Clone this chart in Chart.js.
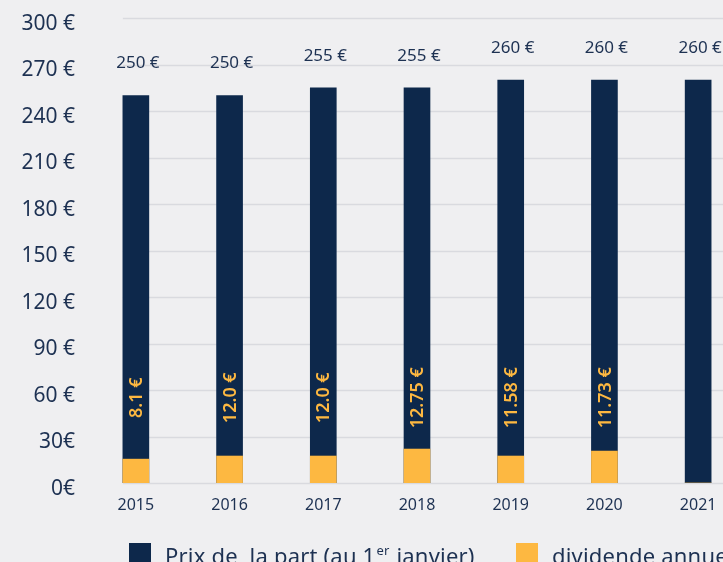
<!DOCTYPE html>
<html>
<head>
<meta charset="utf-8">
<script src="https://cdn.jsdelivr.net/npm/chart.js@4/dist/chart.umd.min.js"></script>
<style>
  html, body { margin: 0; padding: 0; background: #efeff1; overflow: hidden; }
</style>
</head>
<body>
<canvas id="chart" width="745" height="600"></canvas>
<script>
const years = ["2015", "2016", "2017", "2018", "2019", "2020", "2021"];
const prices = [250, 250, 255, 255, 260, 260, 260];
const priceLabels = ["250 €", "250 €", "255 €", "255 €", "260 €", "260 €", "260 €"];
// orange bar heights as drawn in the picture (axis units)
const dividendBars = [15.4, 17.4, 17.4, 21.9, 17.4, 20.6, 0];
const dividendLabels = ["8.1 €", "12.0 €", "12.0 €", "12.75 €", "11.58 €", "11.73 €", ""];
const yTickLabels = ["0€", "30€", "60 €", "90 €", "120 €", "150 €", "180 €", "210 €", "240 €", "270 €", "300 €"];

const NAVY = "#0d284b";
const ORANGE = "#fdb841";
const TEXT = "#1d3152";
const FONT = "'Noto Sans', sans-serif";

// horizontal grid lines start at the first bar, not at the chart edge
const gridLines = {
  id: "gridLines",
  beforeDatasetsDraw(chart) {
    const { ctx, scales: { y } } = chart;
    const first = chart.getDatasetMeta(0).data[0];
    const x0 = first.x - first.width / 2;
    ctx.save();
    ctx.strokeStyle = "#d9dadf";
    ctx.lineWidth = 1.5;
    y.ticks.forEach((t) => {
      const py = Math.round(y.getPixelForValue(t.value)) + 0.5;
      ctx.beginPath();
      ctx.moveTo(x0, py);
      ctx.lineTo(chart.width, py);
      ctx.stroke();
    });
    ctx.restore();
  },
};

const barLabels = {
  id: "barLabels",
  afterDatasetsDraw(chart) {
    const { ctx, scales: { y } } = chart;
    ctx.save();
    // prices above the navy bars
    ctx.fillStyle = TEXT;
    ctx.font = "17px " + FONT;
    ctx.textAlign = "center";
    ctx.textBaseline = "middle";
    chart.getDatasetMeta(0).data.forEach((bar, i) => {
      ctx.fillText(priceLabels[i], bar.x + 2, bar.y - 32);
    });
    // dividends, rotated, inside the navy bars
    ctx.fillStyle = ORANGE;
    ctx.font = "600 18px " + FONT;
    const cy = y.getPixelForValue(55);
    chart.getDatasetMeta(1).data.forEach((bar, i) => {
      if (!dividendLabels[i]) return;
      ctx.save();
      ctx.translate(bar.x + 1, cy);
      ctx.rotate(-Math.PI / 2);
      ctx.fillText(dividendLabels[i], 0, 0);
      ctx.restore();
    });
    ctx.restore();
  },
};

// legend drawn by hand so "1er" can get its superscript
const legendRow = {
  id: "legendRow",
  afterDraw(chart) {
    const { ctx } = chart;
    const ds = chart.data.datasets;
    const starts = [129, 516];
    const top = 543;
    ctx.save();
    ctx.textBaseline = "alphabetic";
    ctx.textAlign = "left";
    ctx.letterSpacing = "0.2px";
    ds.forEach((d, i) => {
      const x = starts[i];
      ctx.fillStyle = d.backgroundColor;
      ctx.fillRect(x, top, 22, 22);
      ctx.fillStyle = TEXT;
      ctx.font = "22px " + FONT;
      let tx = x + 36;
      const base = top + 21;
      const parts = d.label.split("1er");
      ctx.fillText(parts[0] + (parts.length > 1 ? "1" : ""), tx, base);
      if (parts.length > 1) {
        tx += ctx.measureText(parts[0] + "1").width;
        ctx.font = "13px " + FONT;
        ctx.fillText("er", tx + 1, base - 9);
        tx += ctx.measureText("er").width + 2;
        ctx.font = "22px " + FONT;
        ctx.fillText(parts[1], tx, base);
      }
    });
    ctx.restore();
  },
};

new Chart(document.getElementById("chart").getContext("2d"), {
  type: "bar",
  data: {
    labels: years,
    datasets: [
      {
        label: "Prix de  la part (au 1er janvier)",
        data: prices,
        backgroundColor: NAVY,
        barThickness: 26,
        order: 1,
      },
      {
        label: "dividende annuel",
        data: dividendBars,
        backgroundColor: ORANGE,
        barThickness: 26,
        order: 0, // drawn on top of the navy bars
      },
    ],
  },
  options: {
    responsive: false,
    animation: false,
    layout: { padding: { top: 18, right: 0, left: 0, bottom: 0 } },
    plugins: {
      legend: { display: false },
      tooltip: { enabled: false },
    },
    scales: {
      x: {
        stacked: true,
        offset: true,
        grid: { display: false, drawTicks: false },
        border: { display: false },
        ticks: { color: TEXT, font: { family: FONT, size: 16 }, padding: 13 },
        afterFit: (s) => { s.height = 117; },
      },
      y: {
        stacked: false,
        min: 0,
        max: 300,
        grid: { display: false, drawTicks: false },
        border: { display: false },
        ticks: {
          stepSize: 30,
          color: TEXT,
          font: { family: FONT, size: 21 },
          padding: 14,
          labelOffset: 6,
          callback: (v, i) => yTickLabels[i],
        },
        afterFit: (s) => {
          s.width = 89;
          s.paddingTop = 0;
          s.paddingBottom = 0;
        },
      },
    },
  },
  plugins: [gridLines, barLabels, legendRow],
});
</script>
</body>
</html>
